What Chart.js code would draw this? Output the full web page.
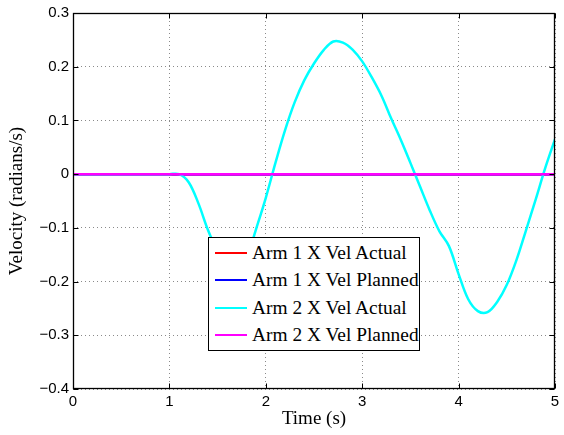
<!DOCTYPE html>
<html>
<head>
<meta charset="utf-8">
<script src="https://cdn.jsdelivr.net/npm/chart.js@4.4.1/dist/chart.umd.min.js"></script>
<style>
  html, body { margin: 0; padding: 0; background: #fff; }
  #wrap { position: relative; width: 564px; height: 435px; }
  #c { display: block; }
  #legend {
    position: absolute; left: 208px; top: 237px; width: 212px; height: 114px;
    background: #fff; border: 1px solid #000; box-sizing: border-box;
    font-family: "Liberation Serif", "Times New Roman", serif; font-size: 19.4px; color: #000;
  }
  #legend .row { position: absolute; left: 0; height: 24px; line-height: 24px; display: flex; align-items: center; white-space: nowrap; }
  #legend .sw { width: 32px; height: 2px; margin-left: 6px; margin-right: 5px; flex: none; }
</style>
</head>
<body>
<div id="wrap">
  <canvas id="c" width="564" height="435"></canvas>
  <div id="legend"></div>
</div>
<script>
// ---- data ----
const timeS = [0.0,0.1,0.2,0.3,0.4,0.5,0.6,0.7,0.8,0.9,1.0,1.1,1.2,1.3,1.4,1.5,1.6,1.7,1.8,1.9,2.0,2.1,2.2,2.3,2.4,2.5,2.6,2.7,2.8,2.9,3.0,3.1,3.2,3.3,3.4,3.5,3.6,3.7,3.8,3.9,4.0,4.1,4.2,4.3,4.4,4.5,4.6,4.7,4.8,4.9,5.0];

const arm1XVelActual  = [0,0,0,0,0,0,0,0,0,0,0,0,0,0,0,0,0,0,0,0,0,0,0,0,0,0,0,0,0,0,0,0,0,0,0,0,0,0,0,0,0,0,0,0,0,0,0,0,0,0,0];
const arm1XVelPlanned = [0,0,0,0,0,0,0,0,0,0,0,0,0,0,0,0,0,0,0,0,0,0,0,0,0,0,0,0,0,0,0,0,0,0,0,0,0,0,0,0,0,0,0,0,0,0,0,0,0,0,0];
const arm2XVelActual  = [0,0,0,0,0,0,0,0,0,0,0,0,-0.015,-0.054,-0.104,-0.145,-0.182,-0.198,-0.158,-0.102,-0.044,0.021,0.082,0.134,0.175,0.206,0.231,0.247,0.245,0.232,0.210,0.180,0.146,0.104,0.064,0.021,-0.023,-0.067,-0.106,-0.134,-0.186,-0.233,-0.255,-0.257,-0.238,-0.206,-0.160,-0.104,-0.047,0.012,0.065];
const arm2XVelPlanned = [0,0,0,0,0,0,0,0,0,0,0,0,0,0,0,0,0,0,0,0,0,0,0,0,0,0,0,0,0,0,0,0,0,0,0,0,0,0,0,0,0,0,0,0,0,0,0,0,0,0,0];

const seriesNames  = ["Arm 1 X Vel Actual", "Arm 1 X Vel Planned", "Arm 2 X Vel Actual", "Arm 2 X Vel Planned"];
const seriesColors = ["#ff0000", "#0000ff", "#00ffff", "#ff00ff"];
const seriesValues = [arm1XVelActual, arm1XVelPlanned, arm2XVelActual, arm2XVelPlanned];

const xTickValues = [0, 1, 2, 3, 4, 5];
const xTickLabels = ["0", "1", "2", "3", "4", "5"];
const yTickValues = [-0.4, -0.3, -0.2, -0.1, 0, 0.1, 0.2, 0.3];
const yTickLabels = ["\u22120.4", "\u22120.3", "\u22120.2", "\u22120.1", "0", "0.1", "0.2", "0.3"];
const xTitle = "Time (s)";
const yTitle = "Velocity (radians/s)";

// ---- build chart ----
function lookup(values, labels, v) {
  for (let i = 0; i < values.length; i++) if (Math.abs(values[i] - v) < 1e-9) return labels[i];
  return "";
}

const datasets = seriesValues.map((vals, i) => ({
  label: seriesNames[i],
  data: timeS.map((t, j) => ({ x: t, y: vals[j] })),
  borderColor: seriesColors[i],
  backgroundColor: seriesColors[i],
  borderWidth: 2.5,
  pointRadius: 0,
  fill: false,
  tension: 0.35,
  order: seriesValues.length - 1 - i
}));

const framePlugin = {
  id: "frame",
  afterDatasetsDraw(chart) {
    const { ctx, chartArea: a, scales: { x, y } } = chart;
    const L = Math.round(a.left) + 0.5, R = Math.round(a.right) - 0.5;
    const T = Math.round(a.top) + 0.5, B = Math.round(a.bottom) - 0.5;
    ctx.save();
    ctx.strokeStyle = "#000";
    ctx.lineWidth = 1;
    ctx.beginPath();
    const tl = 5;
    xTickValues.forEach(v => {
      const px = Math.round(x.getPixelForValue(v)) + 0.5;
      ctx.moveTo(px, B); ctx.lineTo(px, B - tl);
      ctx.moveTo(px, T); ctx.lineTo(px, T + tl);
    });
    yTickValues.forEach(v => {
      const py = Math.round(y.getPixelForValue(v)) + 0.5;
      ctx.moveTo(L, py); ctx.lineTo(L + tl, py);
      ctx.moveTo(R, py); ctx.lineTo(R - tl, py);
    });
    ctx.stroke();
    ctx.lineWidth = 1.3;
    ctx.strokeRect(L, T, R - L, B - T);
    ctx.restore();
  }
};

const gridOpts = { color: "#8a8a8a", lineWidth: 1, drawTicks: false };
const borderOpts = { display: false, dash: [1, 3] };

new Chart(document.getElementById("c"), {
  type: "line",
  data: { datasets },
  options: {
    responsive: false,
    animation: false,
    events: [],
    layout: { padding: { top: 9, right: 9, left: 0, bottom: 0 } },
    plugins: { legend: { display: false }, tooltip: { enabled: false } },
    scales: {
      x: {
        type: "linear", min: 0, max: 5,
        afterBuildTicks: s => { s.ticks = xTickValues.map(v => ({ value: v })); },
        afterFit: s => { s.height = 46; },
        ticks: {
          autoSkip: false, maxRotation: 0, padding: 4, color: "#000",
          font: { family: "'Liberation Sans', Arial, sans-serif", size: 15 },
          callback: v => lookup(xTickValues, xTickLabels, v)
        },
        grid: gridOpts,
        border: borderOpts,
        title: {
          display: true, text: xTitle, color: "#000",
          font: { family: "'Liberation Serif', 'Times New Roman', serif", size: 19 },
          padding: { top: 0, bottom: 5 }
        }
      },
      y: {
        type: "linear", min: -0.4, max: 0.3,
        afterBuildTicks: s => { s.ticks = yTickValues.map(v => ({ value: v })); },
        afterFit: s => { s.width = 73; },
        ticks: {
          autoSkip: false, padding: 4, color: "#000",
          font: { family: "'Liberation Sans', Arial, sans-serif", size: 15 },
          callback: v => lookup(yTickValues, yTickLabels, v)
        },
        grid: gridOpts,
        border: borderOpts,
        title: {
          display: true, text: yTitle, color: "#000",
          font: { family: "'Liberation Serif', 'Times New Roman', serif", size: 19 },
          padding: { top: 6, bottom: 0 }
        }
      }
    }
  },
  plugins: [framePlugin]
});

// ---- legend (HTML overlay) ----
const legend = document.getElementById("legend");
const rowCentres = [15.7, 43.3, 70.7, 98.3];
seriesNames.forEach((name, i) => {
  const row = document.createElement("div");
  row.className = "row";
  row.style.top = (rowCentres[i] - 1 - 12) + "px";
  const sw = document.createElement("span");
  sw.className = "sw";
  sw.style.background = seriesColors[i];
  const tx = document.createElement("span");
  tx.textContent = name;
  row.appendChild(sw);
  row.appendChild(tx);
  legend.appendChild(row);
});
</script>
</body>
</html>
